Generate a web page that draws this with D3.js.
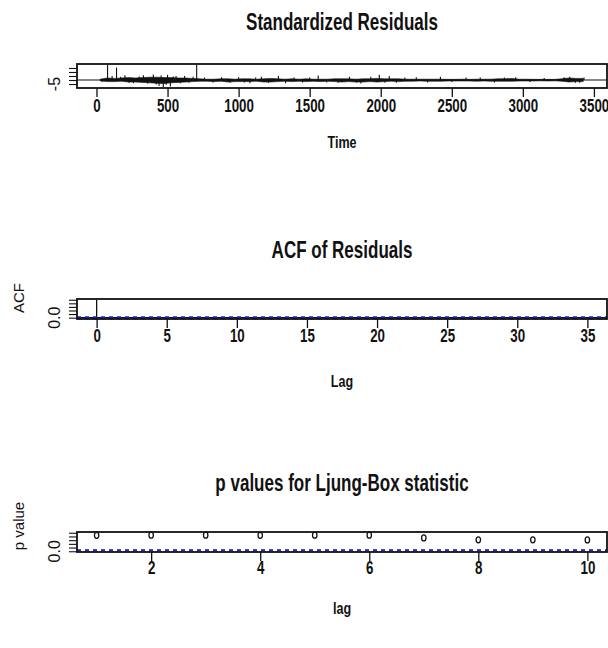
<!DOCTYPE html>
<html>
<head>
<meta charset="utf-8">
<script src="https://cdn.jsdelivr.net/npm/d3@7"></script>
<style>
  body { margin: 0; background: #fff; }
  text { font-family: "Liberation Sans", Arial, sans-serif; fill: #111; }
</style>
</head>
<body>
<svg id="chart" width="608" height="648"></svg>
<script>
// ---- data ----
var seriesLength = 3454;

// residual band, envelope per 50-step bin (bin centres)
var resBinT = [25,75,125,175,225,275,325,375,425,475,525,575,625,675,725,775,825,875,925,975,
  1025,1075,1125,1175,1225,1275,1325,1375,1425,1475,1525,1575,1625,1675,1725,1775,1825,1875,1925,1975,
  2025,2075,2125,2175,2225,2275,2325,2375,2425,2475,2525,2575,2625,2675,2725,2775,2825,2875,2925,2975,
  3025,3075,3125,3175,3225,3275,3325,3375,3425];
var resHi = [1.0,2.5,2.0,2.5,3.0,2.5,3.0,3.5,3.5,3.0,3.0,2.5,2.5,2.0,1.5,1.0,1.0,1.5,1.5,1.0,
  1.5,1.5,1.0,1.5,2.0,1.5,1.0,1.5,1.0,1.5,1.0,1.0,1.0,1.5,1.5,1.5,1.0,1.5,1.5,2.0,
  1.5,1.5,1.5,1.0,1.0,1.0,1.0,1.0,1.0,0.8,0.8,1.0,0.8,1.0,1.0,1.0,1.5,1.5,2.0,1.0,
  1.0,0.8,0.8,0.8,0.8,1.5,2.5,2.0,2.0];
var resLo = [-1.0,-2.0,-2.0,-1.5,-2.5,-2.5,-3.0,-3.5,-4.0,-4.5,-3.5,-3.0,-2.5,-2.0,-1.5,-1.5,-2.0,-1.5,-2.5,-2.0,
  -2.0,-2.0,-1.5,-2.5,-2.5,-2.0,-1.5,-2.0,-1.5,-2.0,-1.5,-2.0,-1.5,-2.0,-2.5,-2.0,-2.5,-2.5,-2.0,-2.5,
  -2.0,-1.5,-2.0,-1.5,-1.5,-1.2,-1.5,-1.5,-1.5,-1.2,-1.2,-1.2,-1.2,-1.5,-1.2,-1.5,-1.5,-1.5,-1.5,-1.2,
  -1.2,-1.2,-1.0,-1.2,-1.0,-1.5,-2.5,-2.0,-2.0];

// isolated spikes (time, residual)
var spikeT = [78,141,705,40,110,170,200,230,260,300,330,360,400,420,440,455,470,490,500,520,
  540,560,590,620,650,680,760,820,880,940,1000,1040,1080,1120,1160,1210,1280,1330,1390,1450,
  1500,1560,1620,1700,1780,1830,1860,1930,1990,2030,2060,2110,2170,2250,2330,2420,2500,2600,2700,2800,
  2870,2950,3050,3150,3290,3330,3370,3400,3430];
var spikeV = [18.8,15.5,18.8,-2.5,5,4,6,-3.5,-4,4.5,6,-4.5,7,-5.5,-7.5,5.5,-8.8,-6,6.5,-8,
  4.5,5,-4,5,-3.5,4,3,-3,3.5,-3.5,3.5,-3,-4,3,4,-3.5,5,-4,3,-3,
  3,5.5,-3,-3.5,4,-3,-4.5,4,6.5,-3.5,5,-3.5,3,3.5,-3,4,-2.5,3,3,-3,
  3,3.5,-2.5,2.5,3.5,4,-3.5,-3.5,3];

var timeTicks = [0,500,1000,1500,2000,2500,3000,3500];
var resTicks = [-5,0,5,10,15];
var resRange = [-8.85,18.85];

var acfLags = [0,1,2,3,4,5,6,7,8,9,10,11,12,13,14,15,16,17,18,19,20,21,22,23,24,25,26,27,28,29,30,31,32,33,34,35];
var acfVals = [1,0.012,-0.008,0.006,0.01,-0.004,0.007,-0.006,0.009,0.003,-0.005,0.008,0.004,-0.007,0.005,0.006,
  -0.003,0.004,0.007,-0.005,0.006,0.003,-0.004,0.005,0.002,-0.006,0.004,0.003,-0.002,0.005,0.004,-0.003,0.002,0.003,-0.004,0.002];
var acfTicks = [0,5,10,15,20,25,30,35];
var acfYTicks = [0,0.2,0.4,0.6,0.8,1.0];

var lbLags = [1,2,3,4,5,6,7,8,9,10];
var lbP = [0.86,0.87,0.87,0.86,0.87,0.87,0.72,0.62,0.62,0.61];
var lbTicks = [2,4,6,8,10];
var pTicks = [0,0.2,0.4,0.6,0.8,1.0];

// ---- drawing ----
var SX = 0.74;   // horizontal text in the picture is squeezed sideways
var svg = d3.select("#chart");
var left = 77, right = 607;

function label(txt, x, y, size, weight, rot) {
  svg.append("text")
    .attr("transform", "translate(" + x + "," + y + ")" + (rot ? " rotate(-90)" : " scale(" + SX + ",1)"))
    .attr("text-anchor", "middle")
    .style("font-size", size + "px")
    .style("font-weight", weight || "normal")
    .text(txt);
}

function ext(r) {
  var d = (r[1] - r[0]) * 0.04;
  return [r[0] - d, r[1] + d];
}

function panel(p) {
  var x = d3.scaleLinear().domain(ext(p.xr)).range([left, right]);
  var y = d3.scaleLinear().domain(ext(p.yr)).range([p.bottom, p.top]);

  var ax = svg.append("g")
    .attr("transform", "translate(0," + p.bottom + ")")
    .call(d3.axisBottom(x).tickValues(p.xticks).tickSize(9).tickFormat(d3.format("d")));
  ax.select(".domain").remove();
  ax.selectAll("line").attr("stroke", "#111").attr("stroke-width", 1.3);
  ax.selectAll("text")
    .attr("y", p.labDy).attr("dy", null)
    .attr("transform", "scale(" + SX + ",1)")
    .style("font-size", "18px")
    .style("font-weight", "bold")
    .style("font-family", "Liberation Sans, Arial, sans-serif")
    .attr("fill", "#111");

  var ay = svg.append("g")
    .attr("transform", "translate(" + left + ",0)")
    .call(d3.axisLeft(y).tickValues(p.yticks).tickSize(8).tickFormat(""));
  ay.select(".domain").remove();
  ay.selectAll("line").attr("stroke", "#111").attr("stroke-width", 1.1);

  label(p.ylabTick, 60, y(p.yticks[0]), 16, "normal", true);
  if (p.ylab) label(p.ylab, 24, p.ylabY, 15, "normal", true);
  label(p.title, (left + right) / 2, p.titleY, 23, "bold");
  label(p.xlab, (left + right) / 2, p.xlabY, 17, "bold");

  return { x: x, y: y };
}

function frame(p) {
  svg.append("rect")
    .attr("x", left).attr("y", p.top)
    .attr("width", right - left).attr("height", p.bottom - p.top)
    .attr("fill", "none").attr("stroke", "#111").attr("stroke-width", 1.8);
}

// panel 1: standardized residuals
var p1 = { top: 64, bottom: 88, xr: [1, seriesLength], yr: resRange, xticks: timeTicks, yticks: resTicks,
  labDy: 24, title: "Standardized Residuals", titleY: 30, xlab: "Time", xlabY: 148,
  ylab: "", ylabY: 76, ylabTick: "-5" };
var s1 = panel(p1);
var band = resBinT.map(function(t, i) { return { t: t, hi: resHi[i], lo: resLo[i] }; });
svg.append("path").datum(band)
  .attr("d", d3.area().x(d => s1.x(d.t)).y0(d => s1.y(d.lo)).y1(d => s1.y(d.hi)))
  .attr("fill", "#111").attr("stroke", "#111").attr("stroke-width", 0.6);
svg.selectAll(".spike").data(spikeT).enter().append("line")
  .attr("class", "spike")
  .attr("x1", d => s1.x(d)).attr("x2", d => s1.x(d))
  .attr("y1", s1.y(0)).attr("y2", (d, i) => s1.y(spikeV[i]))
  .attr("stroke", "#111").attr("stroke-width", 1.1);
svg.append("line")
  .attr("x1", left).attr("x2", right).attr("y1", s1.y(0)).attr("y2", s1.y(0))
  .attr("stroke", "#111").attr("stroke-width", 1.2);
frame(p1);

// panel 2: ACF of residuals
var clim = 1.96 / Math.sqrt(seriesLength);
var p2 = { top: 299, bottom: 319, xr: [0, 35], yr: [-clim, 1], xticks: acfTicks, yticks: acfYTicks,
  labDy: 23, title: "ACF of Residuals", titleY: 258, xlab: "Lag", xlabY: 387,
  ylab: "ACF", ylabY: 298, ylabTick: "0.0" };
var s2 = panel(p2);
svg.selectAll(".acf").data(acfLags).enter().append("line")
  .attr("class", "acf")
  .attr("x1", d => s2.x(d)).attr("x2", d => s2.x(d))
  .attr("y1", s2.y(0)).attr("y2", (d, i) => s2.y(acfVals[i]))
  .attr("stroke", "#111").attr("stroke-width", 1.3);
svg.append("line")
  .attr("x1", left).attr("x2", right).attr("y1", s2.y(0)).attr("y2", s2.y(0))
  .attr("stroke", "#111").attr("stroke-width", 1.4);
[clim, -clim].forEach(function(c) {
  svg.append("line")
    .attr("x1", left).attr("x2", right).attr("y1", s2.y(c)).attr("y2", s2.y(c))
    .attr("stroke", "#1a1ad8").attr("stroke-width", 1.8).attr("stroke-dasharray", "4,4");
});
frame(p2);

// panel 3: Ljung-Box p values
var p3 = { top: 532, bottom: 552, xr: [1, 10], yr: [0, 1], xticks: lbTicks, yticks: pTicks,
  labDy: 22, title: "p values for Ljung-Box statistic", titleY: 491, xlab: "lag", xlabY: 614,
  ylab: "p value", ylabY: 526, ylabTick: "0.0" };
var s3 = panel(p3);
svg.append("line")
  .attr("x1", left).attr("x2", right).attr("y1", s3.y(0.05)).attr("y2", s3.y(0.05))
  .attr("stroke", "#1a1ad8").attr("stroke-width", 2).attr("stroke-dasharray", "4,4");
frame(p3);
svg.selectAll(".pt").data(lbLags).enter().append("ellipse")
  .attr("class", "pt")
  .attr("cx", d => s3.x(d)).attr("cy", (d, i) => s3.y(lbP[i]))
  .attr("rx", 2.2).attr("ry", 3)
  .attr("fill", "none").attr("stroke", "#111").attr("stroke-width", 1.3);
</script>
</body>
</html>
